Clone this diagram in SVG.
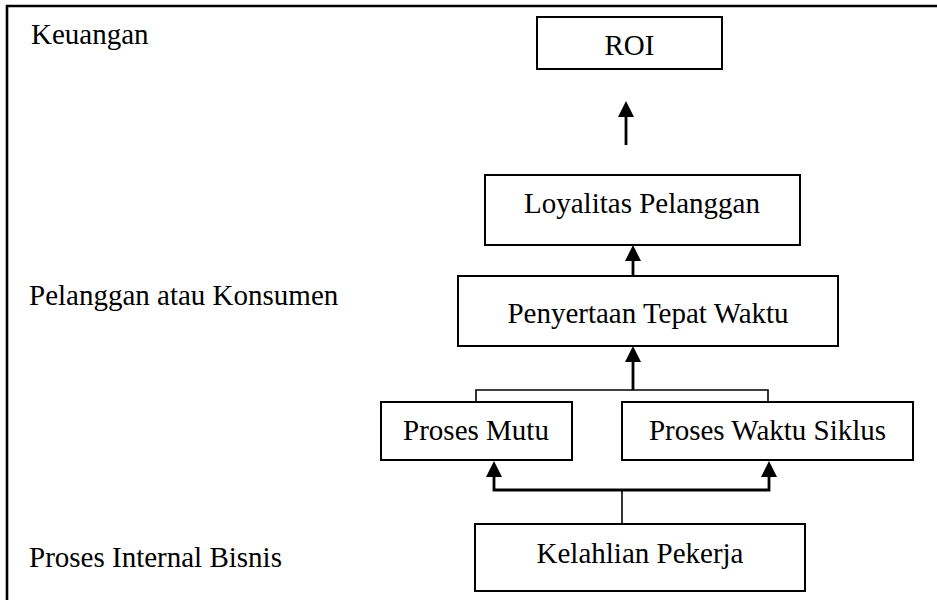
<svg xmlns="http://www.w3.org/2000/svg" width="937" height="600" viewBox="0 0 937 600">
<style>
.box{fill:#fff;stroke:#000;stroke-width:2}
.t{font-family:"Liberation Serif","Times New Roman",serif;font-size:29px;fill:#000}
.c{text-anchor:middle}
.thin{fill:none;stroke:#000;stroke-width:1.6}
.shaft{fill:none;stroke:#000;stroke-width:2.8}
.head{fill:#000;stroke:none}
</style>
<rect width="937" height="600" fill="#fff"/>
<path d="M7,620 V6 H950" fill="none" stroke="#000" stroke-width="2.6"/>
<g id="labels">
<text class="t" x="31" y="44">Keuangan</text>
<text class="t" x="29" y="305">Pelanggan atau Konsumen</text>
<text class="t" x="29" y="567">Proses Internal Bisnis</text>
</g>
<g id="roi"><rect class="box" x="537" y="17" width="185" height="52"/><text class="t c" x="629.5" y="55">ROI</text></g>
<g id="loyalitas"><rect class="box" x="485" y="175" width="315" height="70"/><text class="t c" x="642" y="213">Loyalitas Pelanggan</text></g>
<g id="penyertaan"><rect class="box" x="458" y="276" width="380" height="70"/><text class="t c" x="648" y="323">Penyertaan Tepat Waktu</text></g>
<g id="mutu"><rect class="box" x="381" y="402" width="191" height="58"/><text class="t c" x="476" y="440">Proses Mutu</text></g>
<g id="siklus"><rect class="box" x="622" y="402" width="291" height="58"/><text class="t c" x="767.5" y="440">Proses Waktu Siklus</text></g>
<g id="kelahlian"><rect class="box" x="475" y="524" width="330" height="67"/><text class="t c" x="640" y="563">Kelahlian Pekerja</text></g>
<g id="connectors">
<line class="shaft" x1="626" y1="145" x2="626" y2="116"/>
<polygon class="head" points="618,117 634,117 626,101"/>
<line class="shaft" x1="633" y1="276" x2="633" y2="259"/>
<polygon class="head" points="625,261 641,261 633,245"/>
<line class="shaft" x1="633" y1="390" x2="633" y2="361"/>
<polygon class="head" points="625,362 641,362 633,346"/>
<polyline class="thin" points="476,402 476,390 768,390 768,402"/>
<line class="thin" x1="622" y1="524" x2="622" y2="490"/>
<polyline class="shaft" points="494,476 494,490 769,490 769,476"/>
<polygon class="head" points="486,477 502,477 494,461"/>
<polygon class="head" points="761,477 777,477 769,461"/>
</g>
</svg>
